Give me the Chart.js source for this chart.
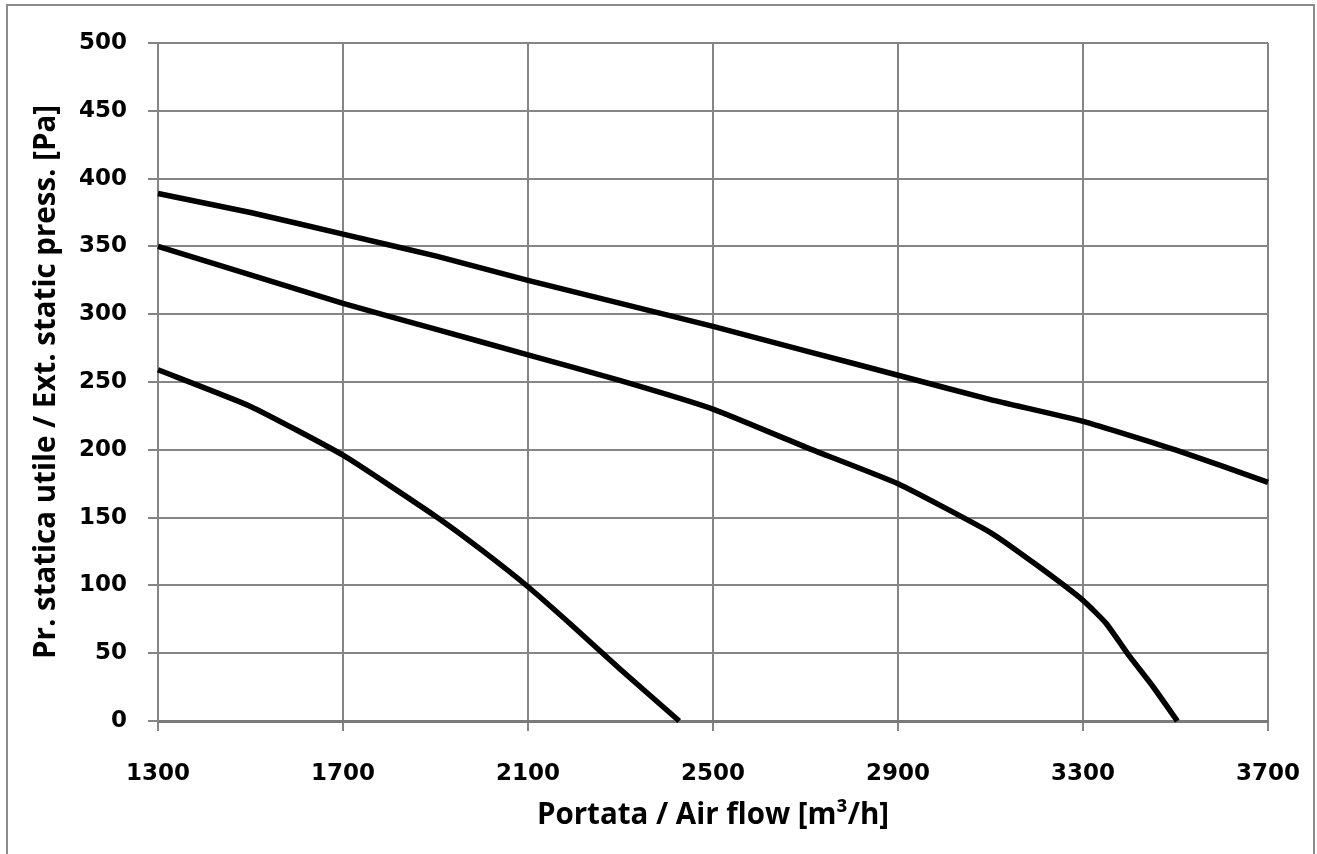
<!DOCTYPE html>
<html>
<head>
<meta charset="utf-8">
<script src="https://cdn.jsdelivr.net/npm/chart.js@4.4.1/dist/chart.umd.min.js"></script>
<style>
  html, body { margin: 0; padding: 0; background: #fff; overflow: hidden; }
  #wrap { position: relative; width: 1317px; height: 854px; }
  #frame { position: absolute; left: 6px; top: 4px; width: 1305px; height: 900px;
           border: 2px solid #8c8c8c; pointer-events: none; }
</style>
</head>
<body>
<div id="wrap">
  <canvas id="fanChart"></canvas>
  <div id="frame"></div>
</div>
<script>
// ---- dati (portata m3/h -> pressione Pa) ----
const flowHigh  = [1300, 1500, 1700, 1900, 2100, 2300, 2500, 2700, 2900, 3100, 3300, 3500, 3700];
const pressHigh = [389, 375, 359, 343, 325, 308, 291, 273, 255, 237, 221, 200, 176];

const flowMid  = [1300, 1500, 1700, 1900, 2100, 2300, 2500, 2700, 2900, 3100, 3200, 3300, 3350, 3400, 3450, 3504];
const pressMid = [350, 329, 308, 289, 270, 251, 230, 202, 175, 139, 115, 89, 72, 48, 26, 0];

const flowLow  = [1300, 1500, 1700, 1900, 2000, 2100, 2200, 2300, 2427];
const pressLow = [259, 232, 196, 151, 126, 99, 69, 38, 0];

const xTicks = [1300, 1700, 2100, 2500, 2900, 3300, 3700];
const yMin = 0, yMax = 500, yStep = 50;

const xTitle = 'Portata / Air flow [m³/h]';
const yTitle = 'Pr. statica utile / Ext. static press. [Pa]';

// ---- stile ----
const GRID = '#858585';
const tickFont = { family: 'DejaVu Sans', weight: 'bold', size: 23 };
const titleFont = { family: 'Open Sans', weight: 'bold', size: 29.5 };

function toPoints(xs, ys) { return xs.map((x, i) => ({ x: x, y: ys[i] })); }

function curve(xs, ys) {
  return {
    data: toPoints(xs, ys), showLine: true, borderColor: '#000', borderWidth: 5.5,
    pointRadius: 0, tension: 0.15, borderJoinStyle: 'round', borderCapStyle: 'butt', clip: false
  };
}

new Chart(document.getElementById('fanChart'), {
  type: 'scatter',
  data: { datasets: [curve(flowHigh, pressHigh), curve(flowMid, pressMid), curve(flowLow, pressLow)] },
  options: {
    responsive: true, maintainAspectRatio: false, animation: false,
    layout: { padding: { top: 43, right: 49, left: 0, bottom: 0 } },
    plugins: { legend: { display: false }, tooltip: { enabled: false } },
    scales: {
      x: {
        type: 'linear', min: xTicks[0], max: xTicks[xTicks.length - 1],
        afterBuildTicks: s => { s.ticks = xTicks.map(v => ({ value: v })); },
        afterFit: s => { s.height = 133; s.paddingLeft = 0; s.paddingRight = 49; },
        grid: { color: GRID, lineWidth: 2, drawTicks: true, tickLength: 10, tickColor: GRID, tickWidth: 2 },
        border: { display: true, color: '#7a7a7a', width: 3 },
        ticks: { color: '#000', font: tickFont, padding: 29, maxRotation: 0, autoSkip: false,
                 callback: v => String(v) },
        title: { display: true, text: xTitle, color: '#000', font: titleFont, padding: { top: 0, bottom: 21 } }
      },
      y: {
        type: 'linear', min: yMin, max: yMax,
        afterFit: s => { s.width = 158; },
        grid: { color: GRID, lineWidth: 2, drawTicks: true, tickLength: 10, tickColor: GRID, tickWidth: 2 },
        border: { display: true, color: GRID, width: 2 },
        ticks: { stepSize: yStep, color: '#000', font: tickFont, padding: 21, callback: v => String(v) },
        title: { display: true, text: yTitle, color: '#000', font: titleFont, padding: { top: 29, bottom: 0 } }
      }
    }
  }
});
</script>
</body>
</html>
